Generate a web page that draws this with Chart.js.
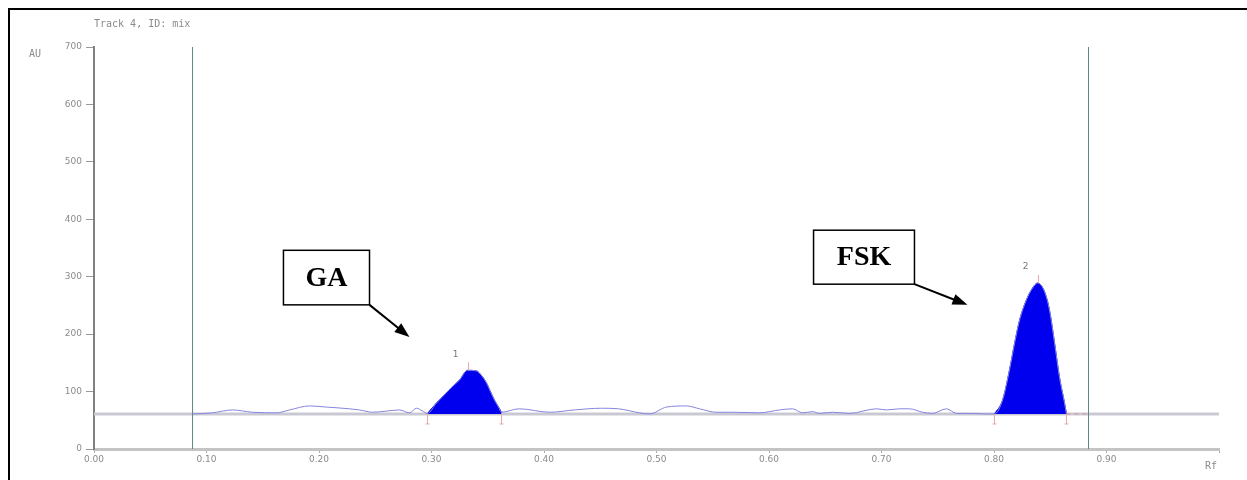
<!DOCTYPE html>
<html>
<head>
<meta charset="utf-8">
<script src="https://cdn.jsdelivr.net/npm/chart.js@4/dist/chart.umd.min.js"></script>
<style>
  html, body { margin: 0; padding: 0; background: #fff; }
  #wrap { width: 1247px; height: 480px; position: relative; }
</style>
</head>
<body>
<div id="wrap"><canvas id="densitogram"></canvas></div>
<script>
// Densitogram trace (Rf vs AU)
const traceRf = [0.0876, 0.1053, 0.1231, 0.1409, 0.1622, 0.1738, 0.1916, 0.2067, 0.2271, 0.2360,
  0.2476, 0.2600, 0.2716, 0.2804, 0.2867, 0.2920, 0.2964, 0.3044, 0.3133, 0.3187,
  0.3249, 0.3320, 0.3400, 0.3444, 0.3489, 0.3524, 0.3560, 0.3596, 0.3622, 0.3780,
  0.4049, 0.4270, 0.4511, 0.4662, 0.4849, 0.4938, 0.5089, 0.5267, 0.5382, 0.5533,
  0.5676, 0.5916, 0.6093, 0.6209, 0.6298, 0.6387, 0.6449, 0.6564, 0.6716, 0.6956,
  0.7044, 0.7160, 0.7249, 0.7364, 0.7453, 0.7578, 0.7667, 0.7809, 0.7933, 0.8004,
  0.8076, 0.8138, 0.8184, 0.8228, 0.8289, 0.8342, 0.8387, 0.8449, 0.8493, 0.8538,
  0.8582, 0.8627, 0.8644];
const traceAu = [61, 63, 68, 64, 63, 68, 75, 73, 70, 68,
  64, 66, 68, 63, 71, 66, 62, 80, 98, 109,
  120, 137, 136, 128, 115, 100, 85, 73, 64, 70,
  64, 68, 71, 70, 63, 61, 73, 75, 70, 64,
  64, 63, 68, 70, 63, 65, 62, 64, 62, 70,
  68, 70, 70, 64, 62, 70, 62, 62, 61, 61,
  85, 138, 185, 225, 260, 280, 289, 274, 242, 185,
  125, 80, 61];

// integrated peaks: [start Rf, end Rf]
const peakRanges = [[0.2964, 0.3622], [0.8004, 0.8644]];
const peakNames = ['1', '2'];
const baselineAu = 61;

// track start / solvent front markers
const markerRf = [0.0876, 0.884];

const xTicks = [0, 0.1, 0.2, 0.3, 0.4, 0.5, 0.6, 0.7, 0.8, 0.9, 1.0];
const yTicks = [0, 100, 200, 300, 400, 500, 600, 700];

// labelled call-outs: box corners and arrow tip in (Rf, AU)
const calloutText = ['GA', 'FSK'];
const calloutBox = [[0.1684, 346, 0.2449, 251], [0.6396, 381, 0.7293, 287]];
const calloutTip = [[0.2804, 195], [0.7764, 251]];

const trace = traceRf.map((x, i) => ({ x: x, y: traceAu[i] }));

const peakSets = peakRanges.map(r => ({
  data: trace.filter(p => p.x >= r[0] && p.x <= r[1]),
  borderColor: '#0000ee',
  backgroundColor: '#0000ee',
  borderWidth: 1,
  fill: { value: baselineAu },
  pointRadius: 0,
  cubicInterpolationMode: 'monotone',
  order: 2
}));

const markerSets = markerRf.map(x => ({
  data: [{ x: x, y: 0 }, { x: x, y: 700 }],
  borderColor: '#5f8585',
  borderWidth: 1,
  pointRadius: 0,
  fill: false,
  order: 3
}));

const overlay = {
  id: 'overlay',
  afterDatasetsDraw(chart) {
    const ctx = chart.ctx;
    const xs = chart.scales.x, ys = chart.scales.y;
    ctx.save();

    // peak boundary and apex markers
    ctx.strokeStyle = '#e8a8a8';
    ctx.lineWidth = 1;
    peakRanges.forEach((r, i) => {
      [r[0], r[1]].forEach(rf => {
        const px = Math.round(xs.getPixelForValue(rf)) + 0.5;
        const py = ys.getPixelForValue(baselineAu);
        ctx.beginPath();
        ctx.moveTo(px, py);
        ctx.lineTo(px, py + 10);
        ctx.moveTo(px - 2, py + 10);
        ctx.lineTo(px + 2, py + 10);
        ctx.stroke();
      });
      const pts = trace.filter(p => p.x >= r[0] && p.x <= r[1]);
      const top = pts.reduce((a, b) => (b.y > a.y ? b : a));
      const tx = Math.round(xs.getPixelForValue(top.x)) + 0.5;
      const ty = ys.getPixelForValue(top.y);
      ctx.beginPath();
      ctx.moveTo(tx, ty);
      ctx.lineTo(tx, ty - 8);
      ctx.stroke();
      ctx.fillStyle = '#777';
      ctx.font = '9px "DejaVu Sans"';
      ctx.textAlign = 'center';
      ctx.textBaseline = 'middle';
      ctx.fillText(peakNames[i], tx - 13, ty - 16);
    });

    // dashed tail after the second peak
    ctx.setLineDash([4, 4]);
    ctx.strokeStyle = '#e09090';
    ctx.beginPath();
    const by = ys.getPixelForValue(baselineAu);
    ctx.moveTo(xs.getPixelForValue(peakRanges[1][1]), by);
    ctx.lineTo(xs.getPixelForValue(markerRf[1]), by);
    ctx.stroke();
    ctx.setLineDash([]);

    // call-outs
    calloutText.forEach((t, i) => {
      const b = calloutBox[i];
      const x1 = xs.getPixelForValue(b[0]), y1 = ys.getPixelForValue(b[1]);
      const x2 = xs.getPixelForValue(b[2]), y2 = ys.getPixelForValue(b[3]);
      ctx.fillStyle = '#fff';
      ctx.fillRect(x1, y1, x2 - x1, y2 - y1);
      ctx.strokeStyle = '#000';
      ctx.lineWidth = 1.5;
      ctx.strokeRect(x1, y1, x2 - x1, y2 - y1);
      ctx.fillStyle = '#000';
      ctx.font = 'bold 28px "Liberation Serif"';
      ctx.textAlign = 'center';
      ctx.textBaseline = 'middle';
      ctx.fillText(t, (x1 + x2) / 2, (y1 + y2) / 2 + 1);

      const tx = xs.getPixelForValue(calloutTip[i][0]);
      const ty = ys.getPixelForValue(calloutTip[i][1]);
      const ang = Math.atan2(ty - y2, tx - x2);
      const head = 15;
      ctx.lineWidth = 2;
      ctx.beginPath();
      ctx.moveTo(x2, y2);
      ctx.lineTo(tx - head * 0.8 * Math.cos(ang), ty - head * 0.8 * Math.sin(ang));
      ctx.stroke();
      ctx.beginPath();
      ctx.moveTo(tx, ty);
      ctx.lineTo(tx - head * Math.cos(ang) + 5.5 * Math.sin(ang), ty - head * Math.sin(ang) - 5.5 * Math.cos(ang));
      ctx.lineTo(tx - head * Math.cos(ang) - 5.5 * Math.sin(ang), ty - head * Math.sin(ang) + 5.5 * Math.cos(ang));
      ctx.closePath();
      ctx.fill();
    });

    // page texts and frame
    ctx.fillStyle = '#8a8a8a';
    ctx.font = '10px "DejaVu Sans Mono"';
    ctx.textAlign = 'left';
    ctx.textBaseline = 'middle';
    ctx.fillText('Track 4, ID: mix', chart.chartArea.left, 24);
    ctx.fillText('AU', 29, 54);
    ctx.fillText('Rf', chart.chartArea.right - 14, 466);

    ctx.strokeStyle = '#000';
    ctx.lineWidth = 2;
    ctx.beginPath();
    ctx.moveTo(9, 480);
    ctx.lineTo(9, 9);
    ctx.lineTo(1247, 9);
    ctx.stroke();
    ctx.restore();
  }
};

new Chart(document.getElementById('densitogram'), {
  type: 'line',
  data: {
    datasets: [
      {
        data: [{ x: 0, y: baselineAu }, { x: 1.0, y: baselineAu }],
        borderColor: '#c9c9d3',
        borderWidth: 3,
        pointRadius: 0,
        fill: false,
        order: 4
      },
      ...markerSets,
      ...peakSets,
      {
        data: trace,
        borderColor: '#8585e0',
        borderWidth: 1,
        pointRadius: 0,
        fill: false,
        cubicInterpolationMode: 'monotone',
        order: 1
      }
    ]
  },
  options: {
    responsive: true,
    maintainAspectRatio: false,
    animation: false,
    layout: { padding: { left: 0, top: 47, right: 28, bottom: 0 } },
    plugins: { legend: { display: false }, tooltip: { enabled: false } },
    scales: {
      x: {
        type: 'linear',
        min: 0,
        max: 1.0,
        afterFit(scale) { scale.height = 31; },
        afterBuildTicks(scale) { scale.ticks = xTicks.map(v => ({ value: v })); },
        ticks: {
          autoSkip: false,
          maxRotation: 0,
          padding: 1,
          color: '#8a8a8a',
          font: { family: 'DejaVu Sans', size: 9 },
          callback: v => (v >= 1 ? '' : v.toFixed(2))
        },
        grid: { drawOnChartArea: false, drawTicks: true, tickLength: 4, color: '#aaaaaa' },
        border: { color: '#c4c4c4', width: 3 }
      },
      y: {
        min: 0,
        max: 700,
        afterFit(scale) { scale.width = 94; },
        afterBuildTicks(scale) { scale.ticks = yTicks.map(v => ({ value: v })); },
        ticks: {
          padding: 4,
          color: '#8a8a8a',
          font: { family: 'DejaVu Sans', size: 9 }
        },
        grid: { drawOnChartArea: false, drawTicks: true, tickLength: 8, color: '#999999' },
        border: { color: '#808080', width: 2 }
      }
    }
  },
  plugins: [overlay]
});
</script>
</body>
</html>
